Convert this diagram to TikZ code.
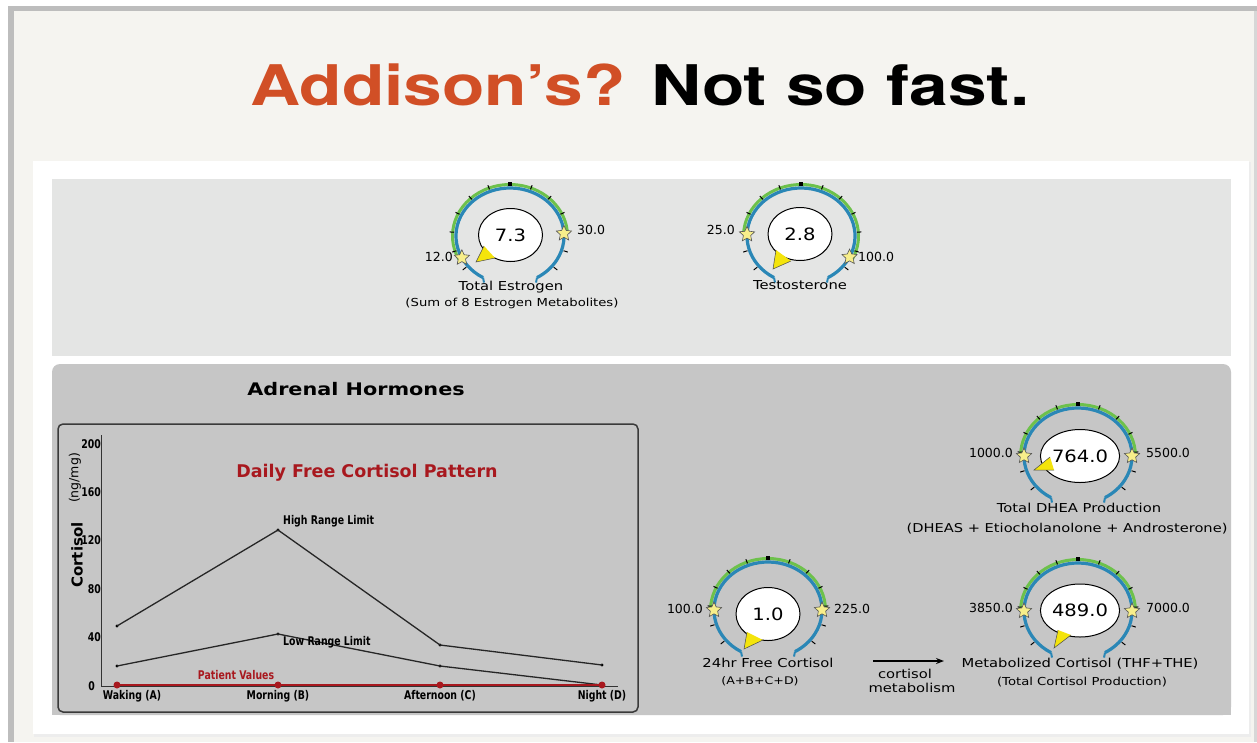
\documentclass[tikz,border=0pt]{standalone}
\usepackage{fontspec}
\usetikzlibrary{shapes.geometric,arrows.meta}
\setmainfont{DejaVu Sans}
\newfontfamily\titlefont[FakeStretch=1.24]{TeX Gyre Heros}
\newfontfamily\lblfont[FakeStretch=1.2]{DejaVu Sans}
\newfontfamily\bubfont[FakeStretch=1.15]{DejaVu Sans}
\newfontfamily\numfont{DejaVu Sans}
\newfontfamily\chartfont[FakeStretch=0.78]{DejaVu Sans}
\newfontfamily\plainfont{DejaVu Sans}
\definecolor{beige}{HTML}{F5F4F0}
\definecolor{framegray}{HTML}{BDBDBD}
\definecolor{panelA}{HTML}{E4E5E4}
\definecolor{panelB}{HTML}{C6C6C6}
\definecolor{titleorange}{HTML}{D14F26}
\definecolor{ringblue}{HTML}{2A87B6}
\definecolor{ringgreen}{HTML}{6DC14B}
\definecolor{starfill}{HTML}{F7EE8A}
\definecolor{stardraw}{HTML}{555555}
\definecolor{triyellow}{HTML}{F4E40B}
\definecolor{chartred}{HTML}{A8181E}
\definecolor{frameline}{HTML}{3A3A3A}
\tikzset{
  ringline/.style={draw=ringblue, line width=3.2},
  greenline/.style={draw=ringgreen, line width=3},
  tickline/.style={draw=black, line width=1},
  gstar/.style={star, star points=5, star point ratio=2.1, fill=starfill, draw=stardraw, line width=0.6, minimum size=16, inner sep=0},
  bubble/.style={ellipse, fill=white, draw=black, line width=1, minimum width=64, minimum height=53, inner sep=0, font=\bubfont\fontsize{17}{20}\selectfont},
  numlbl/.style={inner sep=0, font=\numfont\fontsize{12.5}{14}\selectfont},
  mainlbl/.style={inner sep=0, anchor=base, font=\lblfont\fontsize{12.3}{14}\selectfont},
  sublbl/.style={inner sep=0, anchor=base, font=\lblfont\fontsize{11}{13}\selectfont},
  chartlbl/.style={inner sep=0, font=\chartfont\bfseries\fontsize{12}{14}\selectfont},
  dot/.style={circle, fill=black, inner sep=0, minimum size=3.4},
  rdot/.style={circle, fill=chartred, inner sep=0, minimum size=7},
  dataline/.style={draw=black!85, line width=1.3},
}
% #1 name, #2 cx, #3 cy, #4 left star angle, #5 right star angle, #6 value, #7 bubble x, #8 bubble y
\newcommand{\gauge}[8]{%
  \begin{scope}[shift={(#2,#3)}, yscale=-1]
    \draw[greenline] (#4:57.5 and 51.5) arc[start angle=#4, end angle=#5, x radius=57.5, y radius=51.5];
    \draw[ringline] (240:54 and 48) arc[start angle=240, end angle=-60, x radius=54, y radius=48];
    \draw[ringline, line width=2] (240:54 and 48) -- ++(1,-5);
    \draw[ringline, line width=2] (-60:54 and 48) -- ++(-1,-5);
    \foreach \k in {1,...,13} {
      \pgfmathsetmacro\t{240-\k*300/14}
      \draw[tickline] (\t:56 and 50) -- (\t:60.5 and 54.5);
    }
    \fill[black] (90:58 and 52) ++(-1.8,-1.8) rectangle ++(3.6,3.6);
    \node[gstar] (#1-ls) at (#4:54 and 48) {};
    \node[gstar] (#1-rs) at (#5:54 and 48) {};
  \end{scope}
  \node[bubble] (#1-b) at (#7,#8) {#6};
}
\begin{document}
\begin{tikzpicture}[x=1pt,y=-1pt]
\useasboundingbox (0,0) rectangle (1257,742);
\fill[white] (0,0) rectangle (1257,742);
\fill[framegray] (8,6) rectangle (1257,11);
\fill[framegray] (8,6) rectangle (14,742);
\fill[beige] (14,11) rectangle (1257,742);
\fill[framegray!60] (1254,11) rectangle (1257,742);
% white panel
\fill[black!7] (34,162) rectangle (1251,737);
\fill[white] (33,161) rectangle (1249,734);
% panels
\fill[panelA] (52,179) rectangle (1231,356);
\fill[panelB, rounded corners=8] (52,364) rectangle (1231,715);
\fill[panelB] (52,700) rectangle (1231,715);

% title
\node[anchor=base, inner sep=0, text=titleorange, font=\titlefont\bfseries\fontsize{56}{60}\selectfont] (title) at (640,105) {Addison’s? \textcolor{black}{Not so fast.}};

% ---------- gauges ----------
\gauge{est}{510}{236}{207}{3}{7.3}{510.5}{235}
\fill[triyellow] (484,246) -- (476,262) -- (495,258) -- cycle;
\draw[black!70, line width=0.5] (484,246) -- (476,262) -- (495,258);
\node[numlbl, anchor=base east] (est-l) at (453,261) {12.0};
\node[numlbl, anchor=base west] (est-r) at (577,234) {30.0};
\node[mainlbl] (est-t) at (511,290) {Total Estrogen};
\node[sublbl] (est-s) at (512,306) {(Sum of 8 Estrogen Metabolites)};

\gauge{tes}{801}{236}{178}{-26}{2.8}{800}{234}
\fill[triyellow] (776,250) -- (773,269) -- (791,261) -- cycle;
\draw[black!70, line width=0.5] (776,250) -- (773,269) -- (791,261);
\node[numlbl, anchor=base east] (tes-l) at (735,234) {25.0};
\node[numlbl, anchor=base west] (tes-r) at (858,261) {100.0};
\node[mainlbl] (tes-t) at (800,289) {Testosterone};

\gauge{dhea}{1078}{456}{180}{0}{764.0}{1080}{456}
\fill[triyellow] (1050,457) -- (1034,470) -- (1054,470) -- cycle;
\draw[black!70, line width=0.5] (1050,457) -- (1034,470) -- (1054,470);
\node[numlbl, anchor=base east] (dhea-l) at (1013,457) {1000.0};
\node[numlbl, anchor=base west] (dhea-r) at (1146,457) {5500.0};
\node[mainlbl] (dhea-t) at (1079,512) {Total DHEA Production};
\node[sublbl, font=\lblfont\fontsize{12.2}{14}\selectfont] (dhea-s) at (1067,532) {(DHEAS + Etiocholanolone + Androsterone)};

\gauge{frc}{768}{610}{180}{0}{1.0}{768}{614}
\fill[triyellow] (747,632) -- (744,649) -- (763,640) -- cycle;
\draw[black!70, line width=0.5] (747,632) -- (744,649) -- (763,640);
\node[numlbl, anchor=base east] (frc-l) at (703,613) {100.0};
\node[numlbl, anchor=base west] (frc-r) at (834,613) {225.0};
\node[mainlbl] (frc-t) at (768,667) {24hr Free Cortisol};
\node[sublbl, font=\lblfont\fontsize{10.5}{13}\selectfont] (frc-s) at (760,684) {(A+B+C+D)};

\gauge{met}{1078}{611}{180}{0}{489.0}{1080}{610.5}
\fill[triyellow] (1058,630) -- (1054,648) -- (1071,635) -- cycle;
\draw[black!70, line width=0.5] (1058,630) -- (1054,648) -- (1071,635);
\node[numlbl, anchor=base east] (met-l) at (1013,612) {3850.0};
\node[numlbl, anchor=base west] (met-r) at (1146,612) {7000.0};
\node[mainlbl] (met-t) at (1080,667) {Metabolized Cortisol (THF+THE)};
\node[sublbl] (met-s) at (1082,685) {(Total Cortisol Production)};

% arrow
\coordinate (arrS) at (873,661);
\coordinate (arrE) at (944,661);
\draw[-{Stealth[length=8pt,width=6pt]}, line width=1.3] (arrS) -- (arrE);
\node[mainlbl] (cm1) at (905,678) {cortisol};
\node[mainlbl] (cm2) at (912,692) {metabolism};

% ---------- adrenal ----------
\node[anchor=base, inner sep=0, font=\lblfont\bfseries\fontsize{17.3}{19}\selectfont] (adr) at (356,395) {Adrenal Hormones};

% chart frame
\draw[draw=frameline, line width=1.5, rounded corners=5] (58,424) rectangle (638,712);
% axes
\coordinate (yTop) at (101,435);
\coordinate (org) at (101,686);
\coordinate (xEnd) at (618,686);
\draw[black!80, line width=1] (yTop) -- (org) -- (xEnd);
\node[chartlbl, anchor=east] (y0) at (95,686) {0};
\node[chartlbl, anchor=east] (y40) at (101,637) {40};
\node[chartlbl, anchor=east] (y80) at (101,589) {80};
\node[chartlbl, anchor=east] (y120) at (101,540) {120};
\node[chartlbl, anchor=east] (y160) at (101,492) {160};
\node[chartlbl, anchor=east] (y200) at (101,444) {200};
\node[rotate=90, inner sep=0, font=\plainfont\bfseries\fontsize{15}{16}\selectfont] (ylab) at (77,555) {Cortisol};
\node[rotate=90, inner sep=0, font=\plainfont\fontsize{12.5}{14}\selectfont] (yunit) at (75,478) {(ng/mg)};
\node[anchor=base, inner sep=0, text=chartred, font=\plainfont\bfseries\fontsize{17.5}{20}\selectfont] (ctitle) at (367,477) {Daily Free Cortisol Pattern};

% data points
\node[dot] (h1) at (117,626) {};
\node[dot] (h2) at (278,530) {};
\node[dot] (h3) at (440,645) {};
\node[dot] (h4) at (602,665) {};
\node[dot] (l1) at (117,666) {};
\node[dot] (l2) at (278,634) {};
\node[dot] (l3) at (440,666) {};
\node[dot] (l4) at (602,685) {};
\draw[dataline] (h1.center) -- (h2.center) -- (h3.center) -- (h4.center);
\draw[dataline] (l1.center) -- (l2.center) -- (l3.center) -- (l4.center);
\node[rdot] (p1) at (117,685) {};
\node[rdot] (p2) at (278,685) {};
\node[rdot] (p3) at (440,685) {};
\node[rdot] (p4) at (602,685) {};
\draw[draw=chartred, line width=1.5] (p1.center) -- (p2.center) -- (p3.center) -- (p4.center);

\node[chartlbl, anchor=base west] (hrl) at (283,524) {High Range Limit};
\node[chartlbl, anchor=base west] (lrl) at (283,645) {Low Range Limit};
\node[chartlbl, anchor=base, text=chartred] (pv) at (236,679) {Patient Values};
\node[chartlbl, anchor=base] (xa) at (132,699) {Waking (A)};
\node[chartlbl, anchor=base] (xb) at (278,699) {Morning (B)};
\node[chartlbl, anchor=base] (xc) at (440,699) {Afternoon (C)};
\node[chartlbl, anchor=base] (xd) at (602,699) {Night (D)};
\end{tikzpicture}
\end{document}
